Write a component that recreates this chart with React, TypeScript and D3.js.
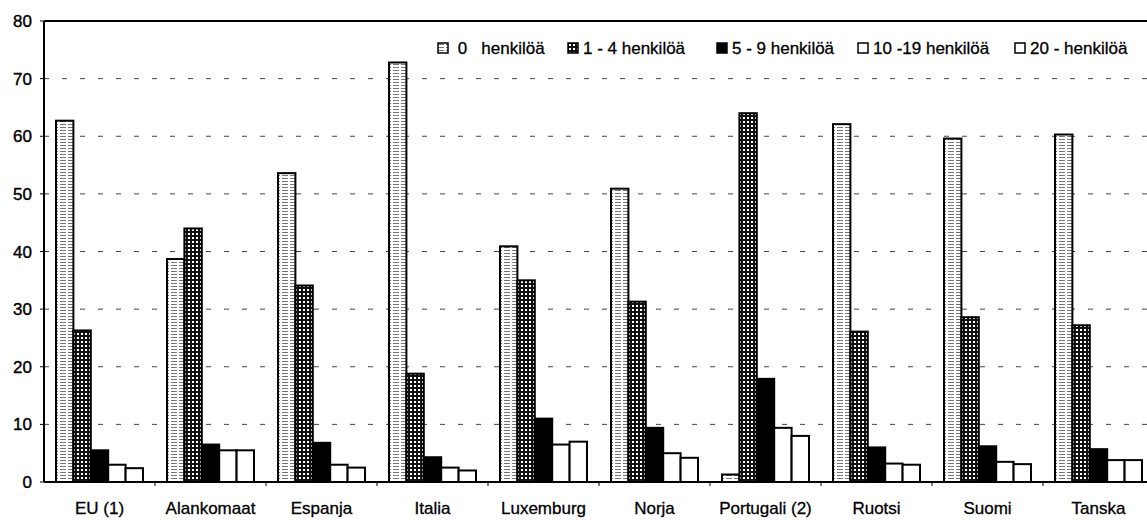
import * as d3 from "d3";
import React, { useEffect, useRef } from "react";

// Chart data
const categories = ["EU (1)", "Alankomaat", "Espanja", "Italia", "Luxemburg", "Norja", "Portugali (2)", "Ruotsi", "Suomi", "Tanska"];
const seriesNames = [" 0   henkilöä", "1 - 4 henkilöä", "5 - 9 henkilöä", "10 -19 henkilöä", "20 - henkilöä"];
const s0 = [62.7, 38.7, 53.6, 72.8, 40.9, 50.9, 1.3, 62.1, 59.6, 60.3];
const s1 = [26.3, 44.0, 34.1, 18.8, 35.0, 31.3, 64.0, 26.1, 28.6, 27.2];
const s2 = [5.5, 6.5, 6.8, 4.3, 11.0, 9.4, 17.9, 6.0, 6.2, 5.7];
const s3 = [3.0, 5.5, 3.0, 2.5, 6.5, 5.0, 9.4, 3.2, 3.5, 3.8];
const s4 = [2.4, 5.5, 2.5, 2.0, 7.0, 4.2, 8.0, 3.0, 3.1, 3.8];
const yTicks = [0, 10, 20, 30, 40, 50, 60, 70, 80];

const seriesValues = [s0, s1, s2, s3, s4];
const fills = ["url(#pat0)", "url(#pat1)", "#000", "#fff", "#fff"];
const legendX = [438, 568, 717, 858, 1015];

export default function App() {
  const svgRef = useRef(null);

  const width = 1147;
  const height = 520;
  const left = 44;
  const top = 21;
  const bottom = 482;

  useEffect(() => {
    document.body.style.margin = "0";
    const svg = d3.select(svgRef.current);
    svg.selectAll("*").remove();

    const font = "'Liberation Sans', Arial, sans-serif";

    // Patterns
    const defs = svg.append("defs");
    const p0 = defs.append("pattern").attr("id", "pat0").attr("patternUnits", "userSpaceOnUse")
      .attr("width", 8).attr("height", 3);
    p0.append("rect").attr("width", 8).attr("height", 3).attr("fill", "#fff");
    p0.append("rect").attr("x", 0).attr("y", 1).attr("width", 6).attr("height", 1).attr("fill", "#777");
    const p1 = defs.append("pattern").attr("id", "pat1").attr("patternUnits", "userSpaceOnUse")
      .attr("width", 4).attr("height", 4);
    p1.append("rect").attr("width", 4).attr("height", 4).attr("fill", "#111");
    p1.append("rect").attr("x", 1).attr("y", 1).attr("width", 2).attr("height", 2).attr("fill", "#fff");

    const x0 = d3.scaleBand().domain(categories).range([left, left + 1110]).padding(0);
    const x1 = d3.scaleBand().domain(seriesNames.map((d, i) => String(i))).range([12, 99]);
    const y = d3.scaleLinear().domain([0, 80]).range([bottom, top]);

    // Gridlines
    svg.append("g")
      .selectAll("line")
      .data(yTicks.filter(t => t > 0 && t < 80))
      .enter()
      .append("line")
      .attr("x1", left).attr("x2", width)
      .attr("y1", d => y(d)).attr("y2", d => y(d))
      .attr("stroke", "#444")
      .attr("stroke-width", 1)
      .attr("stroke-dasharray", "5,13");

    // Top border
    svg.append("line")
      .attr("x1", left).attr("x2", width)
      .attr("y1", y(80)).attr("y2", y(80))
      .attr("stroke", "#000").attr("stroke-width", 2);

    // Bars
    const groups = svg.append("g")
      .selectAll("g")
      .data(categories)
      .enter()
      .append("g")
      .attr("transform", d => "translate(" + x0(d) + ",0)");

    groups.selectAll("rect")
      .data((d, ci) => seriesValues.map((s, si) => ({ si, v: s[ci] })))
      .enter()
      .append("rect")
      .attr("x", d => x1(String(d.si)))
      .attr("y", d => y(d.v))
      .attr("width", x1.bandwidth())
      .attr("height", d => bottom - y(d.v))
      .attr("fill", d => fills[d.si])
      .attr("stroke", "#000")
      .attr("stroke-width", 2);

    // Y axis
    svg.append("line")
      .attr("x1", left).attr("x2", left)
      .attr("y1", top).attr("y2", bottom)
      .attr("stroke", "#000").attr("stroke-width", 2);
    svg.append("g")
      .selectAll("line")
      .data(yTicks)
      .enter()
      .append("line")
      .attr("x1", left - 4).attr("x2", left)
      .attr("y1", d => y(d)).attr("y2", d => y(d))
      .attr("stroke", "#000");
    svg.append("g")
      .selectAll("text")
      .data(yTicks)
      .enter()
      .append("text")
      .attr("x", 32)
      .attr("y", d => y(d) + 6)
      .attr("text-anchor", "end")
      .attr("font-family", font)
      .attr("font-size", 17)
      .attr("stroke", "#000")
      .attr("stroke-width", 0.4)
      .text(d => d);

    // X axis
    svg.append("line")
      .attr("x1", left).attr("x2", width)
      .attr("y1", bottom).attr("y2", bottom)
      .attr("stroke", "#000").attr("stroke-width", 2);
    svg.append("g")
      .selectAll("line")
      .data(categories)
      .enter()
      .append("line")
      .attr("x1", d => x0(d) + x0.bandwidth()).attr("x2", d => x0(d) + x0.bandwidth())
      .attr("y1", bottom).attr("y2", bottom + 4)
      .attr("stroke", "#000");
    svg.append("g")
      .selectAll("text")
      .data(categories)
      .enter()
      .append("text")
      .attr("x", d => x0(d) + x0.bandwidth() / 2)
      .attr("y", 514)
      .attr("text-anchor", "middle")
      .attr("font-family", font)
      .attr("font-size", 17)
      .attr("stroke", "#000")
      .attr("stroke-width", 0.3)
      .text(d => d);

    // Legend
    const legend = svg.append("g")
      .selectAll("g")
      .data(seriesNames)
      .enter()
      .append("g")
      .attr("transform", (d, i) => "translate(" + legendX[i] + ",43)");
    legend.append("rect")
      .attr("width", 10).attr("height", 10)
      .attr("fill", (d, i) => fills[i])
      .attr("stroke", "#000").attr("stroke-width", 1.5);
    legend.append("text")
      .attr("x", 15).attr("y", 11)
      .attr("font-family", font)
      .attr("font-size", 17)
      .attr("stroke", "#000")
      .attr("stroke-width", 0.3)
      .style("white-space", "pre")
      .text(d => d);
  }, []);

  return (
    <svg ref={svgRef} width={width} height={height} style={{ display: "block", background: "#fff" }}></svg>
  );
}
